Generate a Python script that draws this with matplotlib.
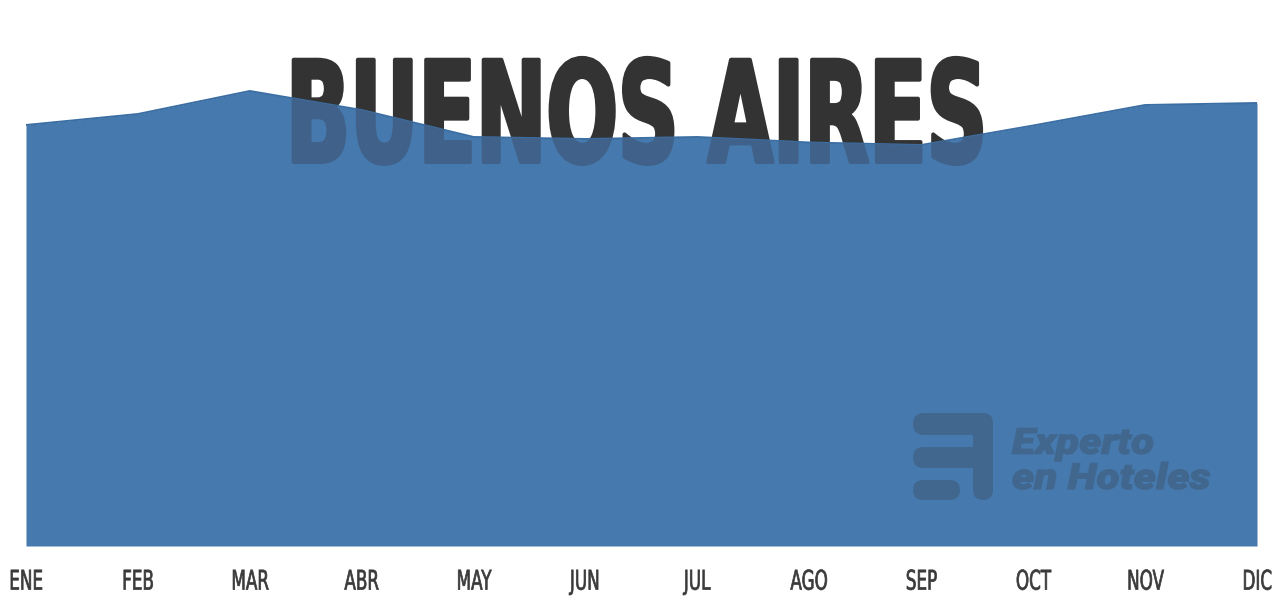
"""Monthly area chart for Buenos Aires with a large title behind the area."""

import matplotlib

matplotlib.use("Agg")

import matplotlib.pyplot as plt
import numpy as np
from matplotlib.patches import FancyBboxPatch
from matplotlib.patheffects import AbstractPathEffect
from matplotlib.transforms import Affine2D

# Data.
MONTHS = ["ENE", "FEB", "MAR", "ABR", "MAY", "JUN", "JUL", "AGO", "SEP", "OCT", "NOV", "DIC"]
VALUES = [84.2, 86.4, 91.0, 87.2, 81.8, 81.4, 81.8, 80.7, 80.2, 84.1, 88.2, 88.6]
TITLE = "BUENOS AIRES"
BRAND = "Experto\nen Hoteles"

W, H, DPI = 1280, 600, 100
AREA = "#4679ad"
EDGE = "#3b6ea3"
TITLE_DARK = "#333333"
TITLE_TINT = "#40628a"
MARK = "#41678f"


class Squeeze(AbstractPathEffect):
    """Scale a text path horizontally around its centre (or left edge), optionally thickened."""

    def __init__(self, sx, stroke=0.0, anchor="center"):
        super().__init__()
        self._sx = sx
        self._stroke = stroke
        self._anchor = anchor

    def draw_path(self, renderer, gc, tpath, affine, rgbFace=None):
        ext = tpath.get_extents(affine)
        cx = ext.x0 if self._anchor == "left" else 0.5 * (ext.x0 + ext.x1)
        affine = affine + Affine2D().translate(-cx, 0).scale(self._sx, 1).translate(cx, 0)
        gc0 = renderer.new_gc()
        gc0.copy_properties(gc)
        if self._stroke:
            gc0.set_linewidth(self._stroke)
            gc0.set_foreground(rgbFace)
            gc0.set_joinstyle("round")
        else:
            gc0.set_linewidth(0)
        renderer.draw_path(gc0, tpath, affine, rgbFace)
        gc0.restore()


def px_rect(x0, y0, x1, y1):
    """Figure fraction rectangle from pixel box (origin top-left)."""
    return [x0 / W, 1 - y1 / H, (x1 - x0) / W, (y1 - y0) / H]


fig = plt.figure(figsize=(W / DPI, H / DPI), dpi=DPI)
ax = fig.add_axes(px_rect(26, 46, 1257, 546))

x = np.arange(len(MONTHS))
vals = np.asarray(VALUES)

area = ax.fill_between(x, 0, vals, color=AREA, lw=0, zorder=2)
ax.plot(x, vals, color=EDGE, lw=1.4, zorder=3)
ax.set_xlim(0, len(MONTHS) - 1)
ax.set_ylim(0, 100)

# Title: dark under the area, tinted where the area covers it.
title_kw = dict(
    transform=fig.transFigure, ha="center", va="baseline", fontsize=101,
    fontweight="bold", family="DejaVu Sans",
)
ax.text(636 / W, 1 - 162 / H, TITLE, color=TITLE_DARK, zorder=1,
        path_effects=[Squeeze(0.6, stroke=2.9)], **title_kw)
tint = ax.text(636 / W, 1 - 162 / H, TITLE, color=TITLE_TINT, zorder=4,
               path_effects=[Squeeze(0.6, stroke=2.9)], **title_kw)
tint.set_clip_on(True)
tint.set_clip_path(area.get_paths()[0], ax.transData)

# Watermark logo.
pix = Affine2D().scale(1 / DPI, -1 / DPI).translate(0, H / DPI) + fig.dpi_scale_trans
for x0, y0, x1, y1 in [(913, 413, 990, 435), (913, 447, 990, 468), (913, 480, 960, 500), (973, 413, 993, 500)]:
    r = min(x1 - x0, y1 - y0) / 2
    ax.add_patch(FancyBboxPatch((x0 + r, y0 + r), x1 - x0 - 2 * r, y1 - y0 - 2 * r,
                                boxstyle=f"round,pad={r},rounding_size={r}",
                                transform=pix, color=MARK, lw=0, zorder=5, clip_on=False))
ax.text(1012 / W, 1 - 489 / H, BRAND, transform=fig.transFigure, ha="left", va="baseline",
        family="Roboto", fontweight="heavy", style="italic", fontsize=26,
        color=MARK, linespacing=0.97, zorder=5, multialignment="left",
        path_effects=[Squeeze(1.17, stroke=0.8, anchor="left")])

for side in ("top", "right", "left", "bottom"):
    ax.spines[side].set_visible(False)
ax.set_yticks([])
ax.set_xticks(x)
ax.set_xticklabels(MONTHS)
ax.tick_params(axis="x", length=0, pad=17, labelsize=19.5, labelcolor="#3a3a3a")
for lab in ax.get_xticklabels():
    lab.set_path_effects([Squeeze(0.62, stroke=0.5)])

fig.savefig("out.png", dpi=DPI)
